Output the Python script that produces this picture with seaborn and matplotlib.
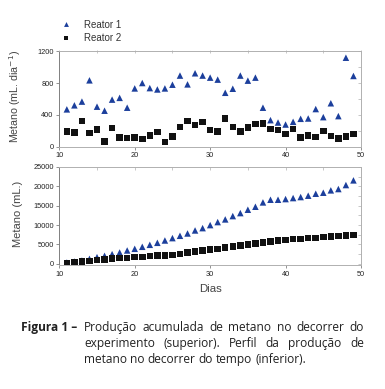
import numpy as np
import pandas as pd
import matplotlib
matplotlib.use("Agg")
import matplotlib.pyplot as plt
from matplotlib.ticker import MultipleLocator
import seaborn as sns

# ---------------- data ----------------
dias = list(range(11, 50))

reator1_diaria = [468, 519, 566, 834, 502, 451, 591, 613, 489, 732,
                  800, 736, 719, 732, 779, 894, 783, 923, 894, 868,
                  843, 677, 728, 894, 830, 868, 489, 332, 302, 277,
                  311, 349, 353, 472, 370, 545, 383, 1119, 889]
reator2_diaria = [187, 179, 319, 170, 213, 60, 234, 115, 106, 111,
                  94, 136, 183, 55, 128, 243, 323, 272, 306, 209,
                  191, 353, 247, 191, 238, 285, 289, 221, 209, 157,
                  221, 111, 136, 119, 196, 132, 98, 128, 157]

reator1_acum = [345, 600, 860, 1290, 1720, 2070, 2500, 2930, 3450, 3880,
                4400, 4910, 5430, 6030, 6640, 7240, 7840, 8620, 9220, 10000,
                10780, 11470, 12330, 13100, 13970, 14740, 15860, 16550, 16550, 16720,
                16980, 17240, 17590, 18100, 18360, 18970, 19310, 20340, 21550]
reator2_acum = [190, 370, 540, 780, 950, 1120, 1380, 1470, 1550, 1720,
                1810, 1980, 2160, 2160, 2330, 2590, 2930, 3190, 3450, 3710,
                3880, 4220, 4480, 4740, 5000, 5260, 5520, 5780, 6030, 6210,
                6380, 6470, 6640, 6720, 6900, 7070, 7160, 7330, 7500]

series = ["Reator 1", "Reator 2"]
x_ticks = [10, 20, 30, 40, 50]
y_ticks_top = [0, 400, 800, 1200]
y_ticks_bot = [0, 5000, 10000, 15000, 20000, 25000]

caption_lines = [
    "Produção acumulada de metano no decorrer do",
    "experimento (superior). Perfil da produção de",
    "metano no decorrer do tempo (inferior).",
]

# --------------- frames ---------------
df_top = pd.DataFrame({
    "Dias": dias * 2,
    "Metano": reator1_diaria + reator2_diaria,
    "Reator": [series[0]] * len(dias) + [series[1]] * len(dias),
})
df_bot = pd.DataFrame({
    "Dias": dias * 2,
    "Metano": reator1_acum + reator2_acum,
    "Reator": [series[0]] * len(dias) + [series[1]] * len(dias),
})

sns.set_theme(style="white")
plt.rcParams["font.family"] = ["Liberation Sans", "DejaVu Sans"]

W, H = 385, 389
fig = plt.figure(figsize=(W / 100, H / 100), dpi=100)

def px_axes(left, top, right, bottom):
    return fig.add_axes([left / W, 1 - bottom / H, (right - left) / W, (bottom - top) / H])

ax1 = px_axes(59.3, 50.5, 361, 146.5)
ax2 = px_axes(59.3, 167, 361, 265)

palette = {series[0]: "#1c3f9c", series[1]: "#111111"}
markers = {series[0]: "^", series[1]: "s"}

for ax, df in [(ax1, df_top), (ax2, df_bot)]:
    sns.scatterplot(data=df, x="Dias", y="Metano", hue="Reator", style="Reator",
                    palette=palette, markers=markers, s=22, linewidth=0,
                    ax=ax, legend=(ax is ax1), zorder=3)

def style_axes(ax, yticks, ylim):
    ax.set_xlim(10, 50)
    ax.set_ylim(*ylim)
    ax.set_xticks(x_ticks)
    ax.set_yticks(yticks)
    for s in ax.spines.values():
        s.set_color("#b0b0b0")
        s.set_linewidth(0.7)
    ax.spines["left"].set_color("#808080")
    ax.tick_params(axis="both", which="major", direction="out", length=2.5,
                   width=0.6, color="#808080", labelsize=5.3,
                   labelcolor="#222222", pad=1.5, bottom=True, left=True)
    sec_x = ax.secondary_xaxis("top")
    sec_x.set_xticks(x_ticks)
    sec_x.xaxis.set_minor_locator(MultipleLocator(5))
    sec_x.tick_params(which="both", direction="in", length=2, width=0.5,
                      color="#b0b0b0", labeltop=False)
    sec_x.spines["top"].set_visible(False)
    sec_y = ax.secondary_yaxis("right")
    sec_y.set_yticks(yticks)
    step = yticks[1] - yticks[0]
    sec_y.yaxis.set_minor_locator(MultipleLocator(step / 2))
    sec_y.tick_params(which="both", direction="in", length=2, width=0.5,
                      color="#b0b0b0", labelright=False)
    sec_y.spines["right"].set_visible(False)

style_axes(ax1, y_ticks_top, (0, 1210))
style_axes(ax2, y_ticks_bot, (-300, 25000))

ax1.set_xlabel("")
ax1.set_ylabel("Metano (mL. dia$^{-1}$)", fontsize=7.7, color="#444444")
ax2.set_xlabel("Dias", fontsize=8.2, color="#444444", labelpad=5)
ax2.set_ylabel("Metano (mL.)", fontsize=8, color="#444444")
ax1.yaxis.set_label_coords(23 / W, 1 - 96 / H, transform=fig.transFigure)
ax2.yaxis.set_label_coords(23 / W, 1 - 214 / H, transform=fig.transFigure)

leg = ax1.legend(loc="center left", bbox_to_anchor=(48 / W, 1 - 31.5 / H),
                 bbox_transform=fig.transFigure, frameon=True, fontsize=7,
                 handletextpad=0.9, labelspacing=0.35, borderpad=0.3,
                 markerscale=0.75)
leg.get_frame().set_facecolor("white")
leg.get_frame().set_edgecolor("white")
leg.get_frame().set_alpha(1)
for t in leg.get_texts():
    t.set_color("#333333")

# --------------- caption ---------------
cap_font = dict(fontsize=8.6, family=["Open Sans", "DejaVu Sans"], color="#222222", va="baseline")
fig.text(21 / W, 1 - 331 / H, "Figura 1 –", fontweight="bold", **cap_font)

x0, x1 = 84, 364
baselines = [331, 347, 363]
line_texts = []
for line, yb in zip(caption_lines, baselines):
    words = line.split(" ")
    texts = [fig.text(x0 / W, 1 - yb / H, w, **cap_font) for w in words]
    line_texts.append(texts)
probe_a = fig.text(0.01, 0.01, "a a", **cap_font)
probe_b = fig.text(0.01, 0.01, "aa", **cap_font)

fig.canvas.draw()
renderer = fig.canvas.get_renderer()
space = probe_a.get_window_extent(renderer).width - probe_b.get_window_extent(renderer).width
probe_a.remove(); probe_b.remove()

for i, texts in enumerate(line_texts):
    widths = [t.get_window_extent(renderer).width for t in texts]
    if i < len(line_texts) - 1:
        gap = (x1 - x0 - sum(widths)) / (len(texts) - 1)
    else:
        gap = space
    x = x0
    for t, w in zip(texts, widths):
        t.set_x(x / W)
        x += w + gap

fig.savefig("out.png", dpi=100)
